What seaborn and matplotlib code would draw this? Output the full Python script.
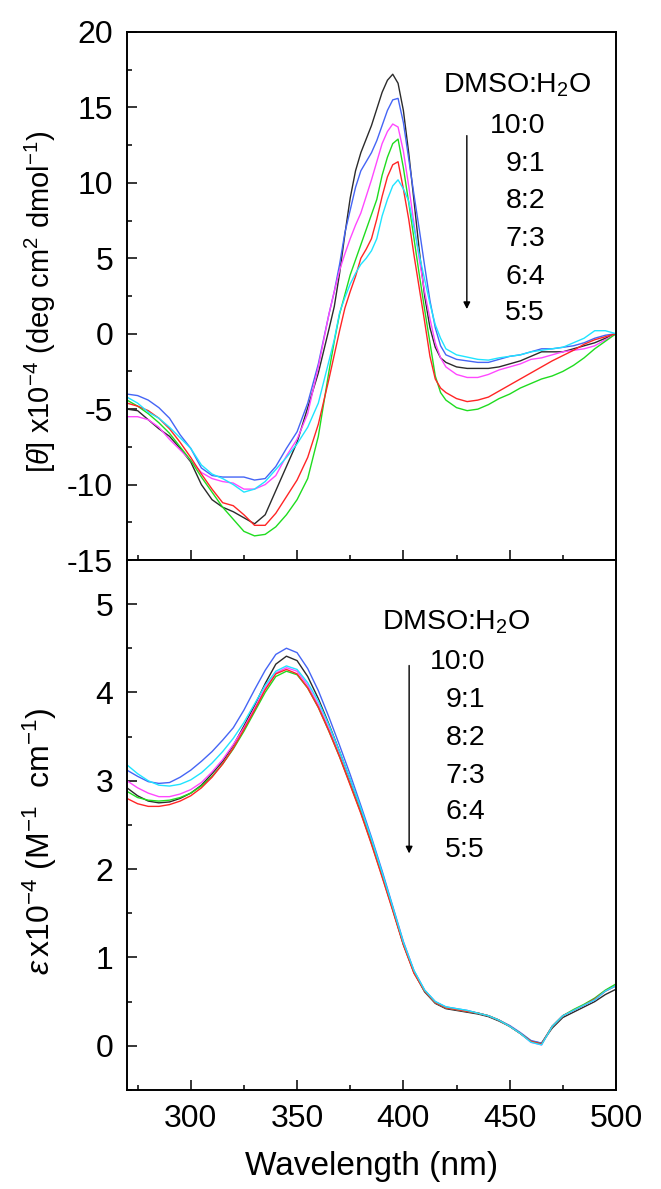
import numpy as np
import pandas as pd
import matplotlib
matplotlib.use("Agg")
import matplotlib.pyplot as plt
from matplotlib.ticker import MultipleLocator
import seaborn as sns

# ---------------- data ----------------
ratios = ["10:0", "9:1", "8:2", "7:3", "6:4", "5:5"]
colors = ["#2b2b2b", "#4565f5", "#ff48ff", "#1fdc1f", "#ff2525", "#1fe4ff"]

# CD spectra (top panel)
wl_cd = [270, 275, 280, 285, 290, 295, 300, 305, 310, 315, 320, 325, 330, 335, 340, 345,
         350, 355, 360, 365, 367.5, 370, 372.5, 375, 377.5, 380, 382.5, 385, 387.5, 390,
         392.5, 395, 397.5, 400, 402.5, 405, 407.5, 410, 412.5, 415, 417.5, 420,
         425, 430, 435, 440, 445, 450, 455, 460, 465, 470, 475, 480, 485, 490, 495, 500]

cd_10_0 = [-5.0, -5.1, -5.7, -6.3, -6.8, -7.6, -8.5, -10.0, -11.0, -11.5, -11.8, -12.2, -12.6, -12.0, -10.4, -8.8,
           -7.2, -4.9, -2.6, 0.3, 1.8, 4.0, 6.6, 9.0, 10.8, 12.0, 12.9, 13.8, 14.9, 16.0,
           16.8, 17.2, 16.6, 14.8, 12.0, 8.8, 5.5, 2.5, 0.4, -0.9, -1.6, -1.9,
           -2.2, -2.3, -2.3, -2.3, -2.2, -2.0, -1.8, -1.5, -1.2, -1.2, -1.2, -1.0, -0.8, -0.6, -0.3, 0.0]
cd_9_1 = [-4.0, -4.1, -4.4, -4.9, -5.6, -6.7, -7.6, -8.9, -9.4, -9.5, -9.5, -9.5, -9.7, -9.6, -8.8, -7.6,
          -6.5, -4.6, -2.0, 1.3, 2.8, 4.6, 6.7, 8.2, 9.7, 10.8, 11.4, 12.0, 12.8, 13.8,
          14.8, 15.5, 15.6, 14.0, 11.6, 9.2, 6.9, 4.5, 2.2, 0.4, -0.8, -1.4,
          -1.7, -1.8, -1.9, -1.9, -1.7, -1.5, -1.4, -1.2, -1.0, -1.0, -0.9, -0.8, -0.6, -0.3, -0.1, 0.0]
cd_8_2 = [-5.5, -5.5, -5.7, -6.2, -7.0, -7.7, -8.4, -9.2, -9.6, -9.8, -9.9, -10.3, -10.3, -10.0, -9.4, -8.1,
          -7.0, -5.3, -2.2, 1.3, 2.8, 4.2, 5.3, 6.3, 7.2, 8.0, 9.1, 10.2, 11.4, 12.6,
          13.4, 13.9, 13.7, 12.1, 9.8, 7.3, 4.9, 2.8, 1.0, -0.6, -1.6, -2.2,
          -2.7, -2.9, -2.9, -2.7, -2.4, -2.2, -2.0, -1.7, -1.6, -1.4, -1.2, -1.1, -1.0, -0.8, -0.4, 0.0]
cd_7_3 = [-4.4, -4.8, -5.3, -5.9, -6.6, -7.5, -8.4, -9.5, -10.5, -11.5, -12.3, -13.1, -13.4, -13.3, -12.8, -12.0,
          -11.0, -9.6, -6.8, -2.5, -0.5, 1.3, 2.6, 3.9, 4.9, 5.9, 6.9, 7.9, 8.9, 10.5,
          11.7, 12.6, 12.9, 11.0, 8.7, 6.3, 3.9, 1.6, -0.6, -2.8, -3.9, -4.4,
          -4.9, -5.1, -5.0, -4.7, -4.3, -4.0, -3.6, -3.3, -3.0, -2.8, -2.5, -2.1, -1.6, -1.0, -0.5, 0.0]
cd_6_4 = [-4.6, -4.8, -5.1, -5.6, -6.3, -7.2, -8.2, -9.3, -10.3, -11.2, -11.4, -12.0, -12.7, -12.7, -11.9, -10.8,
          -9.7, -8.2, -6.0, -3.0, -1.4, 0.2, 1.7, 2.8, 3.8, 5.0, 5.6, 6.3, 7.6, 9.1,
          10.4, 11.2, 11.4, 9.6, 7.6, 5.2, 3.0, 0.8, -1.5, -3.0, -3.6, -3.9,
          -4.3, -4.5, -4.4, -4.2, -3.8, -3.4, -3.0, -2.6, -2.2, -1.8, -1.45, -1.1, -0.7, -0.4, -0.2, 0.0]
cd_5_5 = [-4.2, -4.6, -5.2, -5.6, -6.2, -6.9, -7.6, -8.7, -9.3, -9.6, -10.0, -10.5, -10.3, -9.8, -9.0, -8.2,
          -7.3, -6.2, -4.6, -1.8, -0.4, 1.4, 2.4, 3.3, 4.0, 4.6, 5.0, 5.5, 6.3, 7.8,
          8.9, 9.8, 10.2, 9.6, 8.8, 7.0, 5.2, 3.6, 2.0, 0.6, -0.3, -1.0,
          -1.4, -1.55, -1.7, -1.75, -1.6, -1.5, -1.4, -1.2, -1.1, -1.0, -0.9, -0.6, -0.3, 0.2, 0.2, 0.0]

# Absorption spectra (bottom panel)
wl_abs = [270, 275, 280, 285, 290, 295, 300, 305, 310, 315, 320, 325, 330, 335, 340, 345,
          350, 355, 360, 365, 370, 375, 380, 385, 390, 395, 400, 405, 410, 415, 420, 425,
          430, 435, 440, 445, 450, 455, 460, 465, 470, 475, 480, 485, 490, 495, 500]

abs_10_0 = [2.92, 2.83, 2.77, 2.75, 2.76, 2.80, 2.86, 2.95, 3.08, 3.22, 3.40, 3.62, 3.85, 4.10, 4.32, 4.41,
            4.36, 4.18, 3.93, 3.64, 3.33, 3.01, 2.67, 2.31, 1.94, 1.55, 1.15, 0.83, 0.61, 0.48, 0.42, 0.40,
            0.38, 0.36, 0.33, 0.28, 0.22, 0.14, 0.05, 0.03, 0.20, 0.32, 0.38, 0.44, 0.50, 0.58, 0.64]
abs_9_1 = [3.12, 3.05, 2.99, 2.97, 2.98, 3.04, 3.12, 3.22, 3.33, 3.46, 3.60, 3.80, 4.03, 4.25, 4.43, 4.50,
           4.45, 4.27, 4.02, 3.72, 3.40, 3.07, 2.72, 2.36, 1.98, 1.58, 1.18, 0.85, 0.63, 0.50, 0.44, 0.42,
           0.40, 0.37, 0.34, 0.29, 0.23, 0.15, 0.06, 0.03, 0.22, 0.34, 0.40, 0.46, 0.52, 0.62, 0.68]
abs_8_2 = [3.00, 2.92, 2.86, 2.82, 2.82, 2.85, 2.90, 2.98, 3.10, 3.24, 3.41, 3.60, 3.82, 4.05, 4.22, 4.28,
           4.24, 4.08, 3.86, 3.59, 3.29, 2.98, 2.65, 2.30, 1.93, 1.55, 1.16, 0.84, 0.62, 0.49, 0.43, 0.41,
           0.39, 0.37, 0.34, 0.29, 0.22, 0.14, 0.04, 0.01, 0.22, 0.34, 0.40, 0.46, 0.52, 0.62, 0.68]
abs_7_3 = [2.88, 2.81, 2.78, 2.77, 2.78, 2.81, 2.86, 2.94, 3.05, 3.19, 3.36, 3.56, 3.78, 4.00, 4.18, 4.24,
           4.20, 4.05, 3.83, 3.56, 3.27, 2.96, 2.64, 2.29, 1.92, 1.54, 1.15, 0.83, 0.62, 0.49, 0.43, 0.41,
           0.39, 0.37, 0.34, 0.29, 0.22, 0.14, 0.05, 0.02, 0.22, 0.34, 0.41, 0.47, 0.54, 0.63, 0.70]
abs_6_4 = [2.80, 2.74, 2.71, 2.71, 2.73, 2.77, 2.83, 2.92, 3.04, 3.19, 3.37, 3.58, 3.80, 4.03, 4.21, 4.26,
           4.21, 4.05, 3.83, 3.56, 3.27, 2.95, 2.63, 2.28, 1.91, 1.53, 1.14, 0.82, 0.62, 0.49, 0.43, 0.41,
           0.39, 0.37, 0.34, 0.29, 0.22, 0.14, 0.05, 0.02, 0.22, 0.34, 0.40, 0.46, 0.53, 0.62, 0.68]
abs_5_5 = [3.18, 3.08, 3.00, 2.95, 2.94, 2.96, 3.01, 3.09, 3.20, 3.33, 3.48, 3.66, 3.87, 4.08, 4.24, 4.30,
           4.26, 4.11, 3.90, 3.63, 3.33, 3.02, 2.69, 2.34, 1.96, 1.57, 1.17, 0.85, 0.63, 0.50, 0.44, 0.42,
           0.40, 0.37, 0.34, 0.29, 0.22, 0.14, 0.04, 0.01, 0.22, 0.34, 0.40, 0.46, 0.52, 0.62, 0.68]

x_ticks = [300, 350, 400, 450, 500]
legend_title = "DMSO:H$_2$O"

# ---------------- style ----------------
sns.set_style("ticks")
plt.rcParams["font.family"] = ["Liberation Sans", "DejaVu Sans"]
plt.rcParams["mathtext.fontset"] = "custom"
plt.rcParams["mathtext.rm"] = "Liberation Sans"
plt.rcParams["mathtext.it"] = "Liberation Sans:italic"
plt.rcParams["mathtext.default"] = "regular"
plt.rcParams["axes.unicode_minus"] = False
plt.rcParams["text.color"] = "black"
plt.rcParams["axes.labelcolor"] = "black"
plt.rcParams["xtick.color"] = "black"
plt.rcParams["ytick.color"] = "black"
plt.rcParams["axes.edgecolor"] = "black"

cd_series = [cd_10_0, cd_9_1, cd_8_2, cd_7_3, cd_6_4, cd_5_5]
abs_series = [abs_10_0, abs_9_1, abs_8_2, abs_7_3, abs_6_4, abs_5_5]

df_cd = pd.concat([pd.DataFrame({"wl": wl_cd, "val": s, "ratio": r})
                   for r, s in zip(ratios, cd_series)], ignore_index=True)
df_abs = pd.concat([pd.DataFrame({"wl": wl_abs, "val": s, "ratio": r})
                    for r, s in zip(ratios, abs_series)], ignore_index=True)
palette = dict(zip(ratios, colors))

fig = plt.figure(figsize=(6.61, 11.89), dpi=100)
ax1 = fig.add_axes([0.1921, 0.5290, 0.7398, 0.4441])
ax2 = fig.add_axes([0.1921, 0.0833, 0.7398, 0.4458])

sns.lineplot(data=df_cd, x="wl", y="val", hue="ratio", hue_order=ratios, palette=palette,
             ax=ax1, legend=False, linewidth=1.0, estimator=None, sort=False)
sns.lineplot(data=df_abs, x="wl", y="val", hue="ratio", hue_order=ratios, palette=palette,
             ax=ax2, legend=False, linewidth=1.0, estimator=None, sort=False)

TICK_FS = 23
LAB_FS = 21

for ax in (ax1, ax2):
    ax.set_xlim(270, 500)
    ax.set_xticks(x_ticks)
    ax.xaxis.set_minor_locator(MultipleLocator(25))
    for sp in ax.spines.values():
        sp.set_visible(True)
        sp.set_linewidth(1.4)
        sp.set_color("black")
    ax.tick_params(which="both", direction="in", top=False, right=False, width=1.1, color="black")
    ax.tick_params(which="major", length=7, labelsize=TICK_FS, pad=10, labelcolor="black")
    ax.tick_params(which="minor", length=3.5)

ax1.set_ylim(-15, 20)
ax1.yaxis.set_major_locator(MultipleLocator(5))
ax1.yaxis.set_minor_locator(MultipleLocator(2.5))
ax1.tick_params(axis="x", labelbottom=False)
ax1.set_xlabel("")
ax1.set_ylabel(r"[$\mathit{\theta}$] x10$^{-4}$ (deg cm$^{2}$ dmol$^{-1}$)", fontsize=LAB_FS)
ax1.yaxis.set_label_coords(-0.142, 0.49)

ax2.set_ylim(-0.5, 5.5)
ax2.yaxis.set_major_locator(MultipleLocator(1))
ax2.yaxis.set_minor_locator(MultipleLocator(0.5))
ax2.set_xlabel("Wavelength (nm)", fontsize=24, labelpad=12)
ax2.set_ylabel(r"$\mathit{\varepsilon}\,$x10$^{-4}$ (M$^{-1}$  cm$^{-1}$)", fontsize=23)
ax2.yaxis.set_label_coords(-0.138, 0.47)

LEG_FS = 20.5
# top legend
ax1.text(0.798, 0.900, legend_title, transform=ax1.transAxes, ha="center", va="center", fontsize=LEG_FS)
top_y = [0.822, 0.750, 0.680, 0.608, 0.536, 0.468]
for lab, yy in zip(ratios, top_y):
    ax1.text(0.855, yy, lab, transform=ax1.transAxes, ha="right", va="center", fontsize=LEG_FS)
ax1.annotate("", xy=(0.695, 0.470), xytext=(0.695, 0.809), xycoords="axes fraction",
             arrowprops=dict(arrowstyle="-|>", color="black", lw=1.0, mutation_scale=10))

# bottom legend
ax2.text(0.673, 0.883, legend_title, transform=ax2.transAxes, ha="center", va="center", fontsize=LEG_FS)
bot_y = [0.808, 0.736, 0.664, 0.592, 0.525, 0.453]
for lab, yy in zip(ratios, bot_y):
    ax2.text(0.732, yy, lab, transform=ax2.transAxes, ha="right", va="center", fontsize=LEG_FS)
ax2.annotate("", xy=(0.577, 0.441), xytext=(0.577, 0.806), xycoords="axes fraction",
             arrowprops=dict(arrowstyle="-|>", color="black", lw=1.0, mutation_scale=10))

fig.savefig("out.png", dpi=100)
